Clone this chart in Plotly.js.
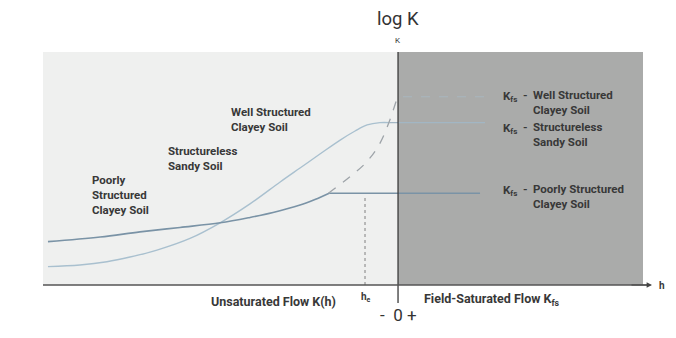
<!DOCTYPE html>
<html><head><meta charset="utf-8">
<script src="https://cdn.plot.ly/plotly-3.0.1.min.js"></script>
<style>html,body{margin:0;padding:0;background:#fff}#c{width:676px;height:338px}</style>
</head><body><div id="c"></div>
<script>
// h (pressure head, arbitrary units) and log K (arbitrary units)
const poorlyH = [-9.86, -8.39, -7.27, -6.14, -5.01, -4.17, -3.52, -2.76, -2.34, -1.94];
const poorlyK = [1.86, 2.06, 2.28, 2.47, 2.67, 2.90, 3.11, 3.43, 3.67, 3.94];
const poorlyPlateauH = [-1.94, 2.31];
const poorlyPlateauK = [3.94, 3.94];

const sandyH = [-9.86, -8.96, -8.20, -7.55, -6.79, -5.86, -5.01, -4.17, -3.32, -2.76, -2.20, -1.63, -1.21, -0.87, -0.51, -0.23];
const sandyK = [0.79, 0.86, 1.00, 1.20, 1.50, 2.00, 2.67, 3.48, 4.42, 5.02, 5.62, 6.22, 6.61, 6.87, 6.97, 6.97];
const sandyPlateauH = [-0.23, 2.45];
const sandyPlateauK = [6.97, 6.97];

const wellH = [-1.96, -1.35, -0.88, -0.51, -0.23, -0.04, 0.0];
const wellK = [3.94, 4.65, 5.29, 6.08, 7.08, 7.94, 8.08];
const wellPlateauH = [0.14, 2.42];
const wellPlateauK = [8.08, 8.08];

const heH = [-0.93, -0.93];
const heK = [0, 3.85];

const xRange = [-10, 6.9];
const yRange = [0, 10];

const txt = '#383838';
const F = {family: 'Roboto, "Liberation Sans", sans-serif', size: 11.5, color: txt, weight: 700};

const traces = [
  {x: sandyH, y: sandyK, mode: 'lines', line: {color: '#a9c0cf', width: 1.4, shape: 'spline', smoothing: 1}},
  {x: sandyPlateauH, y: sandyPlateauK, mode: 'lines', line: {color: '#a2b6c4', width: 1.4}},
  {x: poorlyH, y: poorlyK, mode: 'lines', line: {color: '#7a93a6', width: 1.6, shape: 'spline', smoothing: 1}},
  {x: poorlyPlateauH, y: poorlyPlateauK, mode: 'lines', line: {color: '#7a93a6', width: 1.4}},
  {x: wellH, y: wellK, mode: 'lines', line: {color: '#9ea4a9', width: 1.3, dash: 'dash', shape: 'spline'}},
  {x: wellPlateauH, y: wellPlateauK, mode: 'lines', line: {color: '#a9b7bf', width: 1.1, dash: 'dash'}},
  {x: heH, y: heK, mode: 'lines', line: {color: '#9a9a9a', width: 1.3, dash: 'dot'}}
];

const ann = [];
function P(px, py, text, o) { ann.push(Object.assign({x: px, y: py, xref: 'paper', yref: 'paper', text: text, showarrow: false, font: F, xanchor: 'center', yanchor: 'middle'}, o || {})); }

// plot area in pixels: 43..643 x 52..285
const L = 43, R = 643, T = 52, B = 285;
const px = v => (v - L) / (R - L);
const py = v => (B - v) / (B - T);
const big = s => ({family: 'Roboto, sans-serif', size: s, color: '#333'});

P(px(398), py(19), 'log K', {font: big(18.5)});
P(px(398), py(40), 'K', {font: big(8)});
P(px(398), py(315), '-  0 +', {font: big(17)});
P(px(273), py(301), 'Unsaturated Flow K(h)', {font: Object.assign({}, F, {size: 12.5})});
P(px(492), py(299), 'Field-Saturated Flow K<sub>fs</sub>', {font: Object.assign({}, F, {size: 12.5})});
P(px(366), py(297), 'h<sub>e</sub>', {font: Object.assign({}, F, {size: 10})});
P(px(657), py(285), 'h', {xanchor: 'left', font: Object.assign({}, F, {size: 10})});

P(px(229), py(119), 'Well Structured<br>Clayey Soil', {xanchor: 'left', align: 'left'});
P(px(166), py(158), 'Structureless<br>Sandy Soil', {xanchor: 'left', align: 'left'});
P(px(90), py(194.5), 'Poorly<br>Structured<br>Clayey Soil', {xanchor: 'left', align: 'left'});

const rows = [[95, 'Well Structured<br>Clayey Soil'], [127, 'Structureless<br>Sandy Soil'], [189, 'Poorly Structured<br>Clayey Soil']];
rows.forEach(r => {
  P(px(501), py(r[0] + 1), 'K<sub>fs</sub>', {xanchor: 'left', yanchor: 'middle'});
  P(px(521), py(r[0]), '-', {xanchor: 'left', yanchor: 'middle'});
  P(px(531), py(r[0] + 7), r[1], {xanchor: 'left', align: 'left', yanchor: 'middle'});
});

// arrow for h axis
ann.push({x: px(652), y: 0, xref: 'paper', yref: 'paper', ax: px(630), ay: 0, axref: 'paper', ayref: 'paper',
  showarrow: true, arrowhead: 2, arrowsize: 0.9, arrowwidth: 1.2, arrowcolor: '#444', text: ''});

const shapes = [
  {type: 'rect', xref: 'x', yref: 'paper', x0: 0, x1: xRange[1], y0: 0, y1: 1, fillcolor: '#aaabaa', line: {width: 0}, layer: 'below'},
  {type: 'line', xref: 'x', yref: 'paper', x0: 0, x1: 0, y0: py(303), y1: 1, line: {color: '#3a3a3a', width: 1.3}},
  {type: 'line', xref: 'paper', yref: 'paper', x0: 0, x1: px(650), y0: 0, y1: 0, line: {color: '#555', width: 1.3}}
];

const layout = {
  width: 676, height: 338,
  margin: {l: L, r: 676 - R, t: T, b: 338 - B, pad: 0},
  paper_bgcolor: '#ffffff', plot_bgcolor: '#eff0ef',
  showlegend: false,
  xaxis: {range: xRange, visible: false, fixedrange: true},
  yaxis: {range: yRange, visible: false, fixedrange: true},
  annotations: ann, shapes: shapes
};
Plotly.newPlot('c', traces, layout, {staticPlot: true, displayModeBar: false});
</script></body></html>
